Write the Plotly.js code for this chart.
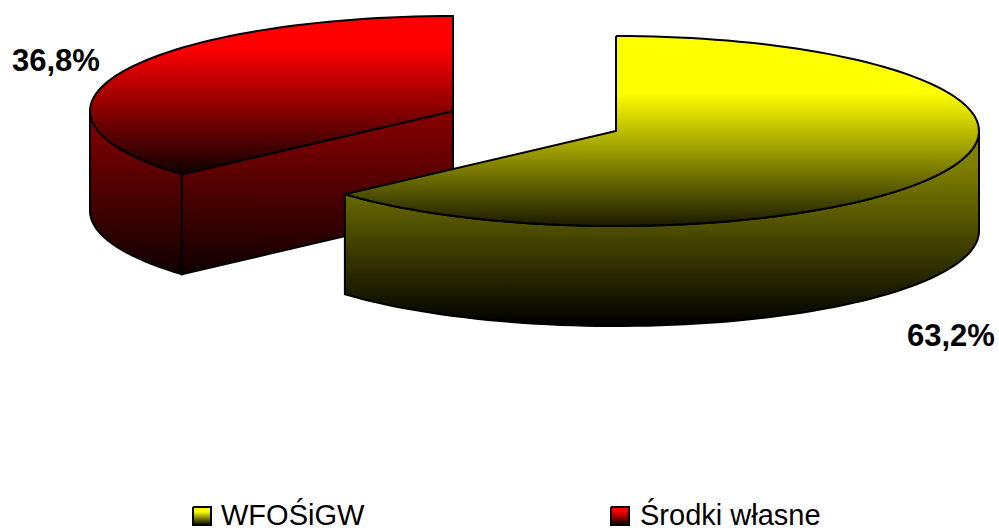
<!DOCTYPE html>
<html>
<head>
<meta charset="utf-8">
<script src="https://cdn.plot.ly/plotly-3.0.1.min.js"></script>
<style>html,body{margin:0;padding:0;background:#fff;overflow:hidden}#c{width:999px;height:532px}</style>
</head>
<body>
<div id="c"></div>
<script>
const categories = ["WFOŚiGW", "Środki własne"];
const values = [63.2, 36.8];
const valueLabels = ["63,2%", "36,8%"];
const topColors = ["#ffff00", "#ff0000"];
const wallColors = ["#808000", "#800000"];

// layout of the drawing on the pixel-aligned axes
const RX = 363, RY = 95, DEPTH = 100;
const centers = [[616, 131], [453, 111]];
const labelPos = [[905, 335], [10, 60]];
const swatchPos = [[193, 507], [611, 507]];
const legendTextX = [220, 639];
const SW = 18;
const SEAM_OFFSET = 0.8; // small perspective correction of the slice seam, degrees
const total = values[0] + values[1];

function pt(c, deg, dy) {
  const a = deg * Math.PI / 180;
  return [c[0] + RX * Math.sin(a), c[1] - RY * Math.cos(a) + (dy || 0)];
}
function arc(c, a0, a1, dy) {
  const out = [], n = Math.max(2, Math.ceil(Math.abs(a1 - a0) / 2));
  for (let i = 0; i <= n; i++) out.push(pt(c, a0 + (a1 - a0) * i / n, dy));
  return out;
}
function poly(points, grad) {
  const p = points.concat([points[0]]);
  return {
    type: "scatter", mode: "lines", x: p.map(q => q[0]), y: p.map(q => q[1]),
    fill: "toself", fillgradient: grad, line: {color: "#000", width: 2, simplify: false},
    hoverinfo: "skip", showlegend: false
  };
}
function black(col, hold, end) {
  return [[0, col], [hold, col], [1, end]];
}

const a0End = values[0] / total * 360 + SEAM_OFFSET;
const traces = [];

// red slice (behind)
{
  const c = centers[1], s = a0End, e = 360, col = topColors[1], w = wallColors[1];
  const v = pt(c, s);
  const wallGrad = {type: "vertical", start: c[1] + 14, stop: v[1] + DEPTH, colorscale: [[0, w], [1, "#100000"]]};
  const outer = arc(c, 270, s).concat(arc(c, s, 270, DEPTH));
  traces.push(poly(outer, wallGrad));
  traces.push(poly([v, [c[0], c[1]], [c[0], c[1] + DEPTH], pt(c, s, DEPTH)], wallGrad));
  const top = arc(c, s, e).concat([[c[0], c[1]]]);
  traces.push(poly(top, {type: "vertical", start: c[1] - RY, stop: v[1], colorscale: black(col, 0.2, "#100000")}));
}
// yellow slice (front)
{
  const c = centers[0], e = a0End, col = topColors[0], w = wallColors[0];
  const outer = arc(c, 90, e).concat(arc(c, e, 90, DEPTH));
  traces.push(poly(outer, {type: "vertical", start: c[1] + 34, stop: c[1] + RY + DEPTH, colorscale: [[0, w], [1, "#000000"]]}));
  const top = arc(c, 0, e).concat([[c[0], c[1]]]);
  traces.push(poly(top, {type: "vertical", start: c[1] - RY, stop: c[1] + RY, colorscale: black(col, 0.3, "#1a1a00")}));
}
// legend swatches
categories.forEach((name, i) => {
  const s = swatchPos[i];
  traces.push(poly([[s[0], s[1]], [s[0] + SW, s[1]], [s[0] + SW, s[1] + SW], [s[0], s[1] + SW]],
    {type: "vertical", start: s[1], stop: s[1] + SW, colorscale: [[0, topColors[i]], [0.25, topColors[i]], [1, "#000"]]}));
});

const annotations = [];
valueLabels.forEach((t, i) => annotations.push({
  x: labelPos[i][0], y: labelPos[i][1], xref: "x", yref: "y", text: "<b>" + t + "</b>",
  showarrow: false, xanchor: "left", yanchor: "middle",
  font: {family: "Liberation Sans", size: 31, color: "#000"}
}));
categories.forEach((t, i) => annotations.push({
  x: legendTextX[i], y: 514.5, xref: "x", yref: "y", text: t,
  showarrow: false, xanchor: "left", yanchor: "middle", borderpad: 0,
  font: {family: "Liberation Sans", size: 29, color: "#000"}
}));

Plotly.newPlot("c", traces, {
  width: 999, height: 532, margin: {l: 0, r: 0, t: 0, b: 0},
  paper_bgcolor: "#fff", plot_bgcolor: "#fff", showlegend: false,
  xaxis: {range: [0, 999], visible: false, fixedrange: true},
  yaxis: {range: [532, 0], visible: false, fixedrange: true},
  annotations: annotations
}, {displayModeBar: false, staticPlot: true});
</script>
</body>
</html>
